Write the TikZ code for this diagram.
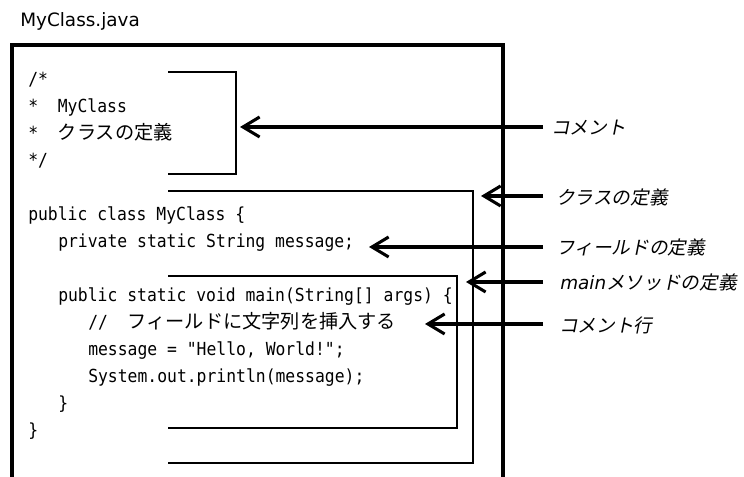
\documentclass[tikz,border=0pt]{standalone}
\usepackage{fontspec}
\setmainfont{DejaVu Sans}
\newfontfamily\codefont{DejaVu Sans Mono}[FakeStretch=0.91]
\newfontfamily\jpfont{Noto Sans CJK JP}
\newfontfamily\jpslant{Noto Sans CJK JP}[FakeSlant=0.2]
\usetikzlibrary{arrows.meta}
\newcommand{\cj}[1]{{\jpfont\fontsize{14.4pt}{14.4pt}\selectfont #1}}
\newcommand{\lj}[1]{{\jpslant\fontsize{14pt}{14pt}\selectfont #1}}
\tikzset{
  code/.style={anchor=base west, inner sep=0pt, font=\codefont\fontsize{13.5pt}{13.5pt}\selectfont},
  lbl/.style={anchor=west, inner sep=0pt},
  frame/.style={line width=2.4pt},
  bracket/.style={line width=1.3pt},
  pointer/.style={line width=2.3pt, -{Straight Barb[length=12.5pt,width=15pt,line width=2.3pt]}},
}
\begin{document}
\begin{tikzpicture}[x=0.75pt,y=-0.75pt]
\useasboundingbox (0,0) rectangle (744,477);
% title
\node[anchor=base west, inner sep=0pt, font=\fontsize{13.8pt}{13.8pt}\selectfont] (title) at (20,27) {MyClass.java};
% outer frame
\draw[frame] (12,480) -- (12,45) -- (503,45) -- (503,480);
% brackets
\draw[bracket] (168,72) -- (236,72) -- (236,174) -- (168,174);
\draw[bracket] (168,191) -- (473,191) -- (473,463) -- (168,463);
\draw[bracket] (168,276) -- (457,276) -- (457,428) -- (168,428);
% code
\node[code] (c1) at (28,86) {/*};
\node[code] (c2) at (28,113) {*\ \ MyClass};
\node[code] (c3) at (28,140) {*\ \ \cj{クラスの定義}};
\node[code] (c4) at (28,167) {*/};
\node[code] (c5) at (28,221) {public class MyClass \{};
\node[code] (c6) at (58,248) {private static String message;};
\node[code] (c7) at (58,302) {public static void main(String[] args) \{};
\node[code] (c8) at (88,329) {//\ \ \cj{フィールドに文字列を挿入する}};
\node[code] (c9) at (88,356) {message = "Hello, World!";};
\node[code] (c10) at (88,383) {System.out.println(message);};
\node[code] (c11) at (58,410) {\}};
\node[code] (c12) at (28,437) {\}};
% arrow anchors
\coordinate (t1) at (240,127);
\coordinate (t2) at (481,196);
\coordinate (t3) at (369,247);
\coordinate (t4) at (466,282);
\coordinate (t5) at (425,324);
\coordinate (s1) at (543,127);
\coordinate (s2) at (543,196);
\coordinate (s3) at (543,247);
\coordinate (s4) at (543,282);
\coordinate (s5) at (543,324);
\draw[pointer] (s1) -- (t1);
\draw[pointer] (s2) -- (t2);
\draw[pointer] (s3) -- (t3);
\draw[pointer] (s4) -- (t4);
\draw[pointer] (s5) -- (t5);
% labels
\node[lbl] (l1) at (551,128) {\lj{コメント}};
\node[lbl] (l2) at (556,197) {\lj{クラスの定義}};
\node[lbl] (l3) at (556,247) {\lj{フィールドの定義}};
\node[lbl] (l4) at (560,282) {{\fontsize{13.8pt}{13.8pt}\selectfont\itshape main}\lj{メソッドの定義}};
\node[lbl] (l5) at (559,325) {\lj{コメント行}};
\end{tikzpicture}
\end{document}
